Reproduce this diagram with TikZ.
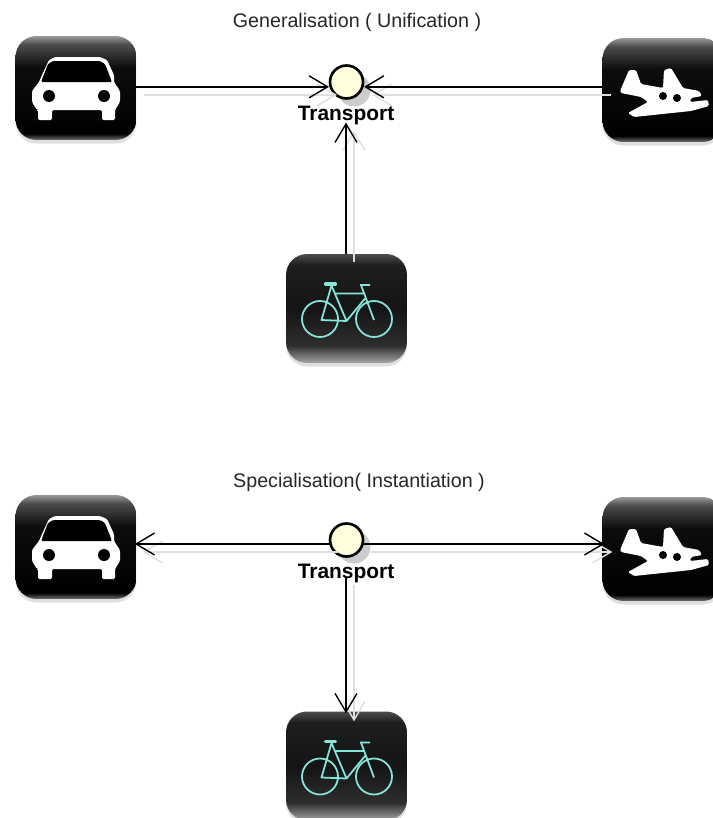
\documentclass[tikz,border=0pt]{standalone}
\usepackage{fontspec}
\setmainfont{Liberation Sans}
\usetikzlibrary{arrows.meta,shadows}
\definecolor{hub-cream}{HTML}{FFFFDC}
\definecolor{bike-cyan}{HTML}{86E6DC}
\pgfdeclareverticalshading{carshade}{100bp}{color(0bp)=(black!55); color(25bp)=(black!55); color(28bp)=(black); color(60bp)=(black!95); color(71bp)=(black!70); color(75bp)=(black!40); color(100bp)=(black!40)}
\pgfdeclareverticalshading{bikeshade}{100bp}{color(0bp)=(black!35); color(25bp)=(black!35); color(33bp)=(black!82); color(50bp)=(black!92); color(70bp)=(black!88); color(75bp)=(black!70); color(100bp)=(black!70)}
\tikzset{
    iconbox/.style={rounded corners=0.42cm, minimum width=2.42cm, minimum height=2.08cm, inner sep=0pt, outer sep=0pt,
        drop shadow={shadow xshift=0pt, shadow yshift=-2pt, opacity=0.25, fill=gray}},
    carbox/.style={iconbox, shading=carshade},
    bikebox/.style={iconbox, shading=bikeshade, minimum height=2.18cm},
    hub/.style={circle, draw=black, line width=1.5pt, fill=hub-cream, minimum size=0.66cm, inner sep=0pt, outer sep=0pt},
    hubshadow/.style={circle, fill=gray!40, minimum size=0.66cm, inner sep=0pt},
    hublabel/.style={font=\bfseries\fontsize{11.9}{14}\selectfont, inner sep=0pt, outer sep=0pt},
    headline/.style={font=\fontsize{11.2}{13}\selectfont, text=black!85, inner sep=0pt},
    link/.style={draw=black, line width=0.8pt, -{Straight Barb[length=10.5pt,width=12.5pt]}, shorten >=1pt},
    linkout/.style={link, shorten >=-1pt},
    linkshadow/.style={draw=gray!25, transform canvas={shift={(8,8)}}},
    caricon/.pic={
        \fill[white, rounded corners=0.8pt] (-38,32) -- (-38,22) -- (-39,22) -- (-44,14) -- (-44,3) -- (-37,-6) -- (-34,-13) -- (-27,-28) -- (-21,-31)
            -- (24,-31) -- (31,-28) -- (38,-13) -- (38,-6) -- (44,3) -- (44,14) -- (39,22) -- (39,32) -- (26,32) -- (26,22)
            -- (-24,22) -- (-24,32) -- cycle;
        \fill[black, rounded corners=0.8pt] (-35,-6) -- (-28,-24) -- (-23,-27) -- (24,-27) -- (29,-24) -- (36,-6) -- cycle;
        \fill[black] (-27,8) circle (6);
        \fill[black] (28,8) circle (6);
    },
    planeicon/.pic={
        \fill[white, rounded corners=0.8pt] (-43,1) -- (-34,-20) -- (-27,-20) -- (-22,-6) -- (0,-2) -- (1,-20) -- (8,-22)
            -- (20,-2) -- (36,1) -- (39,6) -- (28,8) -- (27,12) -- (45,10) -- (46,16) -- (28,21) -- (-29,27) -- (-35,23)
            -- (-15,12) -- (-22,7) -- (-42,3) -- cycle;
        \fill[black] (0,6) circle (4);
        \fill[black] (14,8) circle (4);
    },
    bikeicon/.pic={
        \draw[bike-cyan, line width=1pt] (-26.5,10.5) circle (18) (27.5,10.5) circle (18);
        \draw[bike-cyan, line width=1pt, line join=round] (-25,11.5) -- (-15,-23) -- (0,12.5) -- cycle
            (-11.5,-15) -- (17,-15) (18.5,-10) -- (0,12.5) (14.5,-23.5) -- (27.5,11.5) (13.5,-23.5) -- (23.5,-23.5);
        \draw[bike-cyan, line width=1.8pt, line cap=round] (-21,-24.5) -- (-11,-24.5);
    }
}

\begin{document}
\begin{tikzpicture}[x=0.02cm, y=-0.02cm]
    \useasboundingbox (0,0) rectangle (713,818);
    \clip (0,0) rectangle (713,818);

    \node[headline] (titleA) at (357,22) {Generalisation ( Unification )};
    \node[headline] (titleB) at (359,482) {Specialisation( Instantiation )};

    \node[carbox] (carA) at (76,88) {};
    \node[carbox] (planeA) at (663,90) {};
    \node[bikebox] (bikeA) at (346.5,308.5) {};
    \node[carbox] (carB) at (76,547) {};
    \node[carbox] (planeB) at (663,549) {};
    \node[bikebox] (bikeB) at (346.5,766) {};

    \pic at (carA) {caricon};
    \pic at (planeA) {planeicon};
    \pic at (bikeA) {bikeicon};
    \pic at (carB) {caricon};
    \pic at (planeB) {planeicon};
    \pic at (bikeB) {bikeicon};

    \node[hubshadow] (hubshadowA) at (354,90) {};
    \node[hubshadow] (hubshadowB) at (354,547) {};
    \node[hub] (hubA) at (346.5,82) {};
    \node[hub] (hubB) at (346.5,540) {};
    \node[hublabel] (transportA) at (346,115) {Transport};
    \node[hublabel] (transportB) at (346,573) {Transport};

    % grey copies first
    \draw[link, linkshadow] (carA.east |- hubA.197) -- (hubA.197);
    \draw[link, linkshadow] (planeA.west |- hubA.343) -- (hubA.343);
    \draw[linkout, linkshadow] (transportA.south |- bikeA.north) -- (transportA.south);
    \draw[linkout, linkshadow] (hubB.194) -- (hubB.194 -| carB.east);
    \draw[linkout, linkshadow] (hubB.346) -- (hubB.346 -| planeB.west);
    \draw[linkout, linkshadow, shorten <=-3pt] (transportB.south) -- (transportB.south |- bikeB.north);

    \draw[link] (carA.east |- hubA.197) -- (hubA.197);
    \draw[link] (planeA.west |- hubA.343) -- (hubA.343);
    \draw[linkout] (transportA.south |- bikeA.north) -- (transportA.south);
    \draw[linkout] (hubB.194) -- (hubB.194 -| carB.east);
    \draw[linkout] (hubB.346) -- (hubB.346 -| planeB.west);
    \draw[linkout, shorten <=-3pt] (transportB.south) -- (transportB.south |- bikeB.north);
\end{tikzpicture}
\end{document}
